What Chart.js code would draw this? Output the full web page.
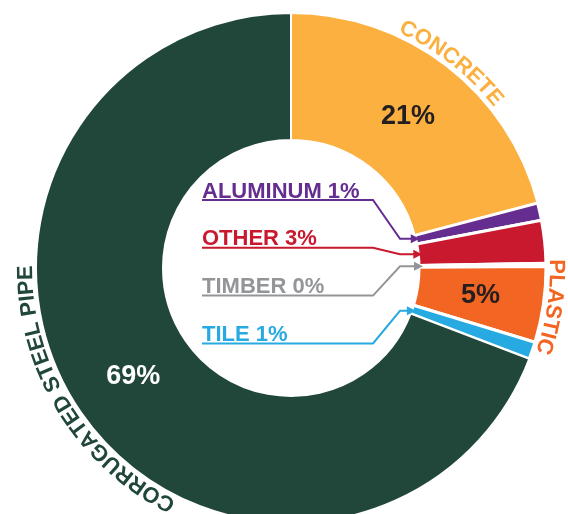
<!DOCTYPE html>
<html>
<head>
<meta charset="utf-8">
<script src="https://cdn.jsdelivr.net/npm/chart.js@4.4.1/dist/chart.umd.min.js"></script>
<style>
  html, body { margin: 0; padding: 0; background: #ffffff; }
  #wrap { position: relative; width: 568px; height: 514px; overflow: hidden; }
</style>
</head>
<body>
<div id="wrap"><canvas id="c"></canvas></div>
<script>
// ---- data ----
const categories = ['CONCRETE', 'ALUMINUM', 'OTHER', 'TIMBER', 'PLASTIC', 'TILE', 'CORRUGATED STEEL PIPE'];
const shares = [20.9, 1.1, 2.7, 0.2, 4.8, 1.1, 69.2];
const percentLabels = ['21%', '1%', '3%', '0%', '5%', '1%', '69%'];

// ---- styles ----
const sliceColors = ['#FBB040', '#662D91', '#C8192E', '#939598', '#F26522', '#27AAE1', '#21473B'];
const borderWidths = [2, 3, 3, 3, 3, 3, 2];
const arcLabelIdx = [0, 4, 6];
const arcLabelShiftDeg = [0.4, 0.2, 3.0];
const insideLabelIdx = [0, 4, 6];
const insideLabelColors = ['#231F20', '#231F20', '#FFFFFF'];
const calloutIdx = [1, 2, 3, 5];
const FONT = '"Liberation Sans", Arial, Helvetica, sans-serif';

function arcText(ctx, cx, cy, text, centerRad, radius, font, color) {
  ctx.save();
  ctx.font = font;
  ctx.fillStyle = color;
  ctx.textAlign = 'center';
  ctx.textBaseline = 'alphabetic';
  const chars = [...text];
  const widths = chars.map(ch => ctx.measureText(ch).width);
  const total = widths.reduce((a, b) => a + b, 0);
  let a = centerRad - total / (2 * radius);
  chars.forEach((ch, i) => {
    const w = widths[i];
    const am = a + w / (2 * radius);
    ctx.save();
    ctx.translate(cx + radius * Math.sin(am), cy - radius * Math.cos(am));
    ctx.rotate(am);
    ctx.fillText(ch, 0, 0);
    ctx.restore();
    a += w / radius;
  });
  ctx.restore();
}

const labelPlugin = {
  id: 'labelPlugin',
  afterDatasetsDraw(chart) {
    const ctx = chart.ctx;
    const meta = chart.getDatasetMeta(0);

    // curved outer labels
    arcLabelIdx.forEach((idx, k) => {
      const el = meta.data[idx];
      const p = el.getProps(['x', 'y', 'startAngle', 'endAngle', 'outerRadius'], true);
      const mid = (p.startAngle + p.endAngle) / 2 + Math.PI / 2 + arcLabelShiftDeg[k] * Math.PI / 180;
      arcText(ctx, p.x, p.y, categories[idx], mid, p.outerRadius + 4, 'bold 22px ' + FONT, sliceColors[idx]);
    });

    // inside percentage labels
    insideLabelIdx.forEach((idx, k) => {
      const el = meta.data[idx];
      const pos = el.tooltipPosition(true);
      ctx.save();
      ctx.font = 'bold 27px ' + FONT;
      ctx.fillStyle = insideLabelColors[k];
      ctx.textAlign = 'center';
      ctx.textBaseline = 'middle';
      ctx.fillText(percentLabels[idx], pos.x, pos.y);
      ctx.restore();
    });

    // callouts in the hole
    const textX = 202, baseY0 = 197.5, stepY = 47.8, elbow1 = 373, elbow2 = 400;
    calloutIdx.forEach((idx, k) => {
      const el = meta.data[idx];
      const p = el.getProps(['x', 'y', 'startAngle', 'endAngle', 'innerRadius'], true);
      const mid = (p.startAngle + p.endAngle) / 2;
      const rr = p.innerRadius + 4;
      const tipX = p.x + rr * Math.cos(mid);
      const tipY = p.y + rr * Math.sin(mid);
      const by = baseY0 + k * stepY;
      const uy = by + 2.5;
      const col = sliceColors[idx];
      ctx.save();
      ctx.font = 'bold 22px ' + FONT;
      ctx.fillStyle = col;
      ctx.strokeStyle = col;
      ctx.textAlign = 'left';
      ctx.textBaseline = 'alphabetic';
      ctx.fillText(categories[idx] + ' ' + percentLabels[idx], textX, by);
      ctx.lineWidth = 2;
      ctx.lineJoin = 'miter';
      ctx.beginPath();
      ctx.moveTo(textX, uy);
      ctx.lineTo(elbow1, uy);
      ctx.lineTo(elbow2, tipY);
      ctx.lineTo(tipX - 6, tipY);
      ctx.stroke();
      ctx.beginPath();
      ctx.moveTo(tipX, tipY);
      ctx.lineTo(tipX - 9, tipY - 4.5);
      ctx.lineTo(tipX - 9, tipY + 4.5);
      ctx.closePath();
      ctx.fill();
      ctx.restore();
    });
  }
};

new Chart(document.getElementById('c'), {
  type: 'doughnut',
  data: {
    labels: categories,
    datasets: [{
      data: shares,
      backgroundColor: sliceColors,
      borderColor: '#ffffff',
      borderWidth: borderWidths,
      hoverOffset: 0
    }]
  },
  options: {
    responsive: true,
    maintainAspectRatio: false,
    devicePixelRatio: 1,
    animation: false,
    events: [],
    radius: 255,
    cutout: '50.2%',
    layout: { padding: { left: 14, top: 22, right: 0, bottom: 0 } },
    plugins: {
      legend: { display: false },
      tooltip: { enabled: false },
      title: { display: false }
    }
  },
  plugins: [labelPlugin]
});
</script>
</body>
</html>
